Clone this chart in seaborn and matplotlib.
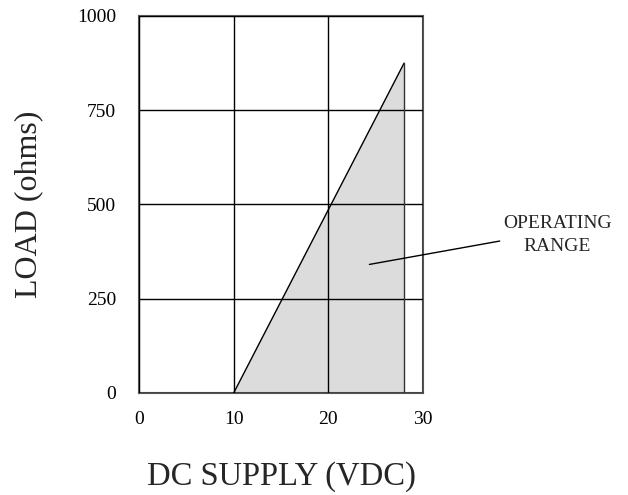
import matplotlib
matplotlib.use("Agg")
import matplotlib.pyplot as plt
import seaborn as sns
import pandas as pd

# data
supply = [10, 28, 28]
load = [0, 875, 0]
x_ticks = [0, 10, 20, 30]
y_ticks = [0, 250, 500, 750, 1000]
annot_text = "OPERATING\nRANGE"

sns.set_theme(style="white")
plt.rcParams['font.family'] = ['Liberation Serif', 'DejaVu Serif']

fig = plt.figure(figsize=(6.28, 4.95), dpi=100)
ax = fig.add_axes([0.2213, 0.2061, 0.4523, 0.7616])

df = pd.DataFrame({"supply": supply[:2], "load": load[:2]})
ax.fill(supply, load, facecolor="#dcdcdc", edgecolor="none", zorder=1)
sns.lineplot(data=df, x="supply", y="load", color="black", linewidth=1.0, ax=ax, zorder=3)
ax.plot([supply[1], supply[2]], [load[1], load[2]], color="#333333", linewidth=1.0, zorder=3)

ax.set_xlim(0, 30)
ax.set_ylim(0, 1000)
ax.set_xticks(x_ticks)
ax.set_yticks(y_ticks)
ax.grid(True, color="black", linewidth=1.0)
ax.set_axisbelow(False)
for l in ax.get_xgridlines() + ax.get_ygridlines():
    l.set_zorder(2)
for s in ax.spines.values():
    s.set_color("#555555")
    s.set_linewidth(1.5)
ax.tick_params(axis="both", length=0, labelsize=14, colors="black")
ax.tick_params(axis="x", pad=13)
ax.tick_params(axis="y", pad=16.5)
ax.set_xlabel("DC SUPPLY (VDC)", fontsize=23.5, labelpad=24)
ax.set_ylabel("LOAD (ohms)", fontsize=23, labelpad=24)

ax.annotate("", xy=(24.34, 341), xytext=(38.1, 403),
            arrowprops=dict(arrowstyle="-", color="black", linewidth=1.0,
                            shrinkA=0, shrinkB=0),
            annotation_clip=False, zorder=4)
ax.text(44.2, 418, annot_text, ha="center", va="center", fontsize=14,
        linespacing=1.45, clip_on=False)

fig.savefig("out.png", dpi=100)
